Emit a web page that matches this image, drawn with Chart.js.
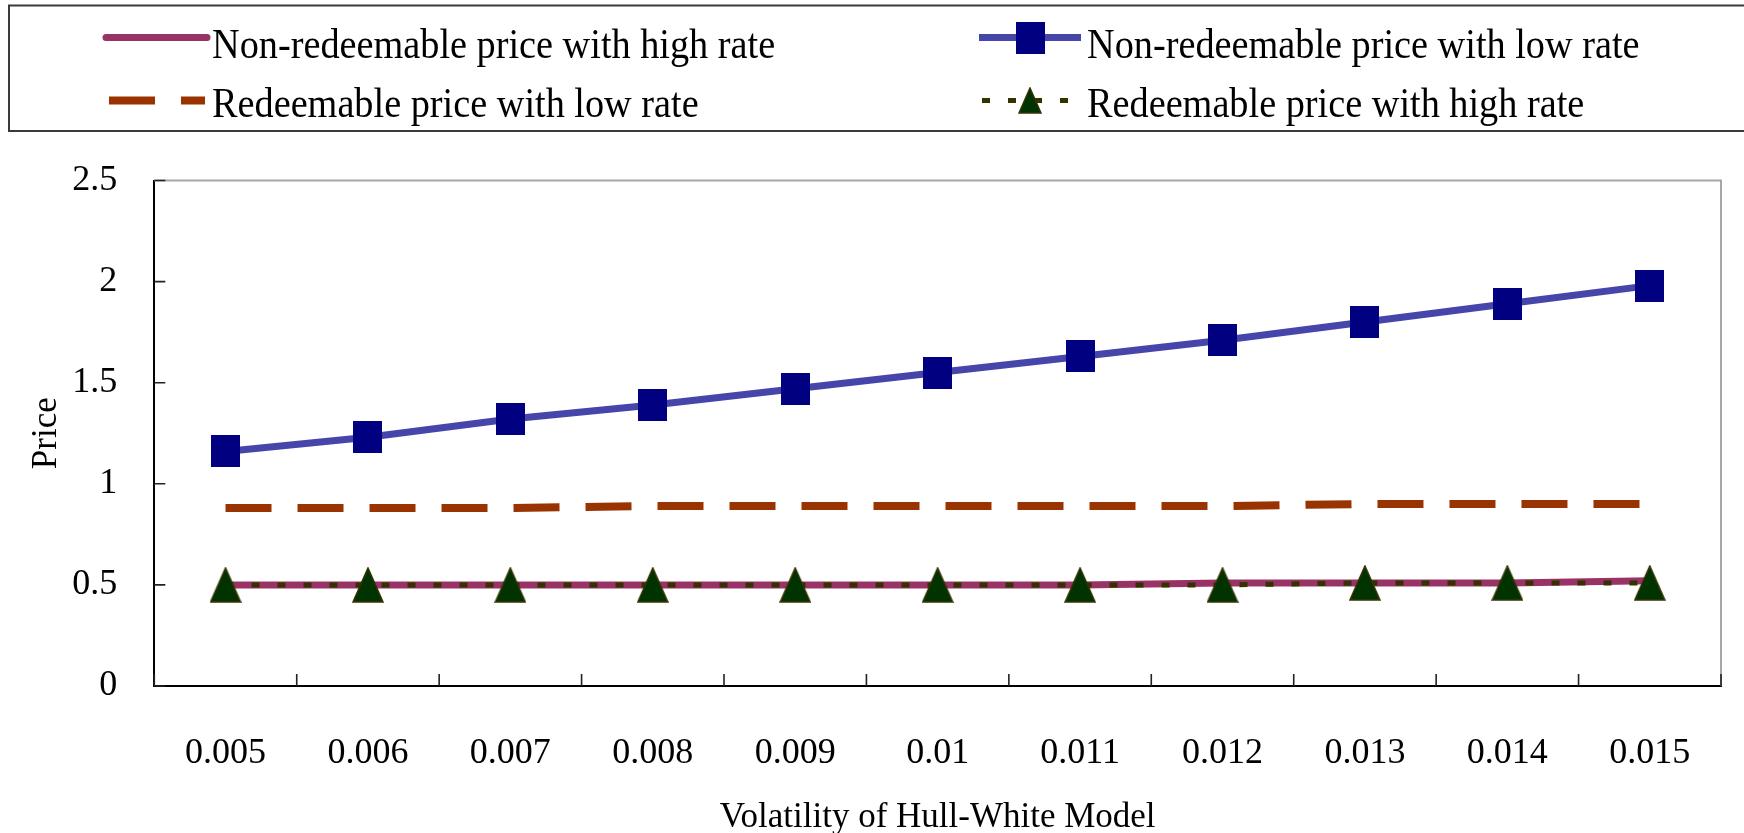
<!DOCTYPE html>
<html>
<head>
<meta charset="utf-8">
<script src="https://cdn.jsdelivr.net/npm/chart.js@4/dist/chart.umd.min.js"></script>
<style>
  html, body { margin: 0; padding: 0; background: #ffffff; }
  canvas { display: block; }
</style>
</head>
<body>
<canvas id="c" width="1744" height="833"></canvas>
<script>
// ---- data ----
const categories = ['0.005','0.006','0.007','0.008','0.009','0.01','0.011','0.012','0.013','0.014','0.015'];
const nonRedeemableHigh = [0.50,0.50,0.50,0.50,0.50,0.50,0.50,0.51,0.51,0.51,0.52];
const nonRedeemableLow  = [1.16,1.23,1.32,1.39,1.47,1.55,1.63,1.71,1.80,1.89,1.98];
const redeemableLow     = [0.88,0.88,0.88,0.89,0.89,0.89,0.89,0.89,0.90,0.90,0.90];
const redeemableHigh    = [0.50,0.50,0.50,0.50,0.50,0.50,0.50,0.50,0.51,0.51,0.51];
const yTicks = [0, 0.5, 1, 1.5, 2, 2.5];
const yTickLabels = ['0', '0.5', '1', '1.5', '2', '2.5'];
const labels = {
  nrHigh: 'Non-redeemable price with high rate',
  nrLow: 'Non-redeemable price with low rate',
  rLow: 'Redeemable price with low rate',
  rHigh: 'Redeemable price with high rate'
};

// ---- marker images ----
function makeSquare(w, h, color) {
  const c = document.createElement('canvas');
  c.width = w; c.height = h;
  const g = c.getContext('2d');
  g.fillStyle = color; g.fillRect(0, 0, w, h);
  return c;
}
function makeTriangle(w, h, fill, stroke) {
  const c = document.createElement('canvas');
  c.width = w; c.height = h;
  const g = c.getContext('2d');
  g.beginPath();
  g.moveTo(w / 2, 1); g.lineTo(w - 1, h - 1); g.lineTo(1, h - 1); g.closePath();
  g.fillStyle = fill; g.fill();
  g.lineWidth = 1.5; g.strokeStyle = stroke; g.stroke();
  return c;
}
const squareMark = makeSquare(29, 32, '#000080');
const triMark = makeTriangle(32, 36, '#003300', '#333300');
const triMarkSmall = makeTriangle(24, 27, '#003300', '#333300');

const SERIF = "'Liberation Serif', 'Times New Roman', serif";

// ---- frame & inward tick marks ----
const framePlugin = {
  id: 'frame',
  beforeDatasetsDraw(chart) {
    const { ctx, chartArea: a, scales: { x, y } } = chart;
    ctx.save();
    ctx.strokeStyle = '#a6a6a6';
    ctx.lineWidth = 2;
    ctx.beginPath();
    ctx.moveTo(a.left, a.top);
    ctx.lineTo(a.right, a.top);
    ctx.lineTo(a.right, a.bottom);
    ctx.stroke();
    ctx.strokeStyle = '#222';
    ctx.lineWidth = 1.6;
    ctx.beginPath();
    yTicks.forEach(v => {
      const py = y.getPixelForValue(v);
      ctx.moveTo(a.left, py); ctx.lineTo(a.left + 11, py);
    });
    const step = x.getPixelForValue(1) - x.getPixelForValue(0);
    for (let i = 0; i <= categories.length; i++) {
      const px = x.getPixelForValue(0) - step / 2 + i * step;
      ctx.moveTo(px, a.bottom); ctx.lineTo(px, a.bottom - 12);
    }
    ctx.stroke();
    ctx.restore();
  }
};

// ---- boxed two-column legend ----
const legendPlugin = {
  id: 'boxLegend',
  afterDraw(chart) {
    const ctx = chart.ctx;
    const ds = {};
    chart.data.datasets.forEach(d => { ds[d.label] = d; });
    ctx.save();
    ctx.strokeStyle = '#3a3a3a';
    ctx.lineWidth = 2;
    ctx.strokeRect(9, 5.5, 1770, 125.5);

    const items = [
      { label: labels.nrHigh, x0: 106, x1: 207, y: 37.5, tx: 212, ty: 57.7 },
      { label: labels.nrLow,  x0: 979, x1: 1081, y: 37.5, tx: 1087, ty: 57.7 },
      { label: labels.rLow,   x0: 109, x1: 205, y: 100.5, tx: 212, ty: 116.7 },
      { label: labels.rHigh,  x0: 982, x1: 1070, y: 100.5, tx: 1087, ty: 116.7 }
    ];
    items.forEach(it => {
      const d = ds[it.label];
      ctx.save();
      ctx.strokeStyle = d.borderColor;
      ctx.lineWidth = d.borderWidth;
      ctx.lineCap = d.legendCap || 'butt';
      ctx.setLineDash(d.borderDash || []);
      ctx.beginPath();
      ctx.moveTo(it.x0, it.y); ctx.lineTo(it.x1, it.y);
      ctx.stroke();
      ctx.restore();
      const mark = d.legendMark;
      if (mark) {
        const cx = (it.x0 + it.x1) / 2 + (d.legendMarkDx || 0);
        ctx.drawImage(mark, cx - mark.width / 2, it.y - mark.height / 2);
      }
      ctx.save();
      ctx.fillStyle = '#000';
      ctx.font = '43px ' + SERIF;
      ctx.textBaseline = 'alphabetic';
      ctx.translate(it.tx, it.ty);
      ctx.scale(0.89, 1);
      ctx.fillText(it.label, 0, 0);
      ctx.restore();
    });
    ctx.restore();
  }
};

new Chart(document.getElementById('c'), {
  type: 'line',
  data: {
    labels: categories,
    datasets: [
      {
        label: labels.rHigh, data: redeemableHigh, order: 0,
        borderColor: '#333300', borderWidth: 5, borderDash: [8, 18],
        pointStyle: triMark, pointRadius: 16, legendMark: triMarkSmall, legendMarkDx: 4,
        fill: false, tension: 0
      },
      {
        label: labels.nrLow, data: nonRedeemableLow, order: 1,
        borderColor: '#4646aa', borderWidth: 7,
        pointStyle: squareMark, pointRadius: 16, legendMark: squareMark,
        fill: false, tension: 0
      },
      {
        label: labels.rLow, data: redeemableLow, order: 2,
        borderColor: '#993300', borderWidth: 8, borderDash: [46, 26],
        pointRadius: 0, fill: false, tension: 0
      },
      {
        label: labels.nrHigh, data: nonRedeemableHigh, order: 3,
        borderColor: '#993366', borderWidth: 7, legendCap: 'round',
        pointRadius: 0, fill: false, tension: 0
      }
    ]
  },
  options: {
    responsive: false,
    animation: false,
    devicePixelRatio: 1,
    layout: { padding: { top: 180.5, right: 20.7, left: 0, bottom: 0 } },
    plugins: { legend: { display: false }, tooltip: { enabled: false } },
    scales: {
      x: {
        type: 'category',
        offset: true,
        grid: { display: false },
        border: { display: true, color: '#000', width: 2 },
        ticks: {
          color: '#000', font: { family: SERIF, size: 36 },
          padding: 37.5, maxRotation: 0, autoSkip: false
        },
        title: {
          display: true, text: 'Volatility of Hull-White Model', color: '#000',
          font: { family: SERIF, size: 35, lineHeight: 0.88 }, padding: 0
        },
        afterFit(s) { s.height = 833 - 686; }
      },
      y: {
        min: 0, max: 2.5,
        grid: { display: false },
        border: { display: true, color: '#000', width: 2 },
        afterBuildTicks(s) { s.ticks = yTicks.map(v => ({ value: v })); },
        ticks: {
          color: '#000', font: { family: SERIF, size: 36 }, padding: 29,
          callback(value) { const i = yTicks.indexOf(value); return i >= 0 ? yTickLabels[i] : ''; }
        },
        title: {
          display: true, text: 'Price', color: '#000',
          font: { family: SERIF, size: 35 }, padding: { top: 26, bottom: 0 }
        },
        afterFit(s) { s.width = 154.3; }
      }
    }
  },
  plugins: [framePlugin, legendPlugin]
});
</script>
</body>
</html>
